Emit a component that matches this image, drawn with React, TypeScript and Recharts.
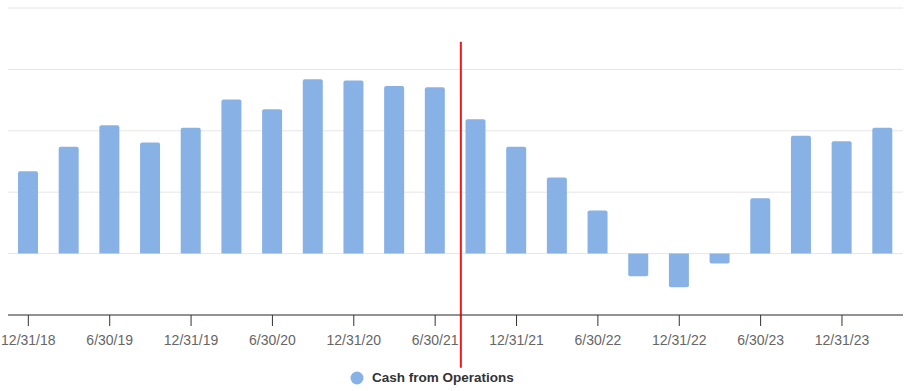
import React from 'react'
import { BarChart, Bar, XAxis, YAxis, CartesianGrid, Legend, ReferenceLine } from 'recharts'

if (typeof document !== 'undefined') document.body.style.margin = '0'

const periods = [
  '12/31/18', '3/31/19', '6/30/19', '9/30/19', '12/31/19', '3/31/20', '6/30/20', '9/30/20',
  '12/31/20', '3/31/21', '6/30/21', '9/30/21', '12/31/21', '3/31/22', '6/30/22', '9/30/22',
  '12/31/22', '3/31/23', '6/30/23', '9/30/23', '12/31/23', '3/31/24'
]

const cashFromOps = [
  134, 174, 209, 181, 205, 251, 235, 284, 282, 273, 271, 219,
  174, 124, 70, -37, -55, -16, 90, 192, 183, 205
]

const yTicks = [-100, 0, 100, 200, 300, 400]

const data = periods.map((period, i) => ({ period, cash: cashFromOps[i] }))

const BLUE = '#88b2e6'

// red divider sits a bit left of the 9/30/21 band centre
const RedDivider = (props: any) => {
  const x = props.x1 - 15
  return <line x1={x} x2={x} y1={props.y1} y2={props.y2} stroke="#f01818" strokeWidth={2} />
}

const LegendContent = () => (
  <div style={{ display: 'flex', alignItems: 'center', paddingLeft: 350, fontFamily: 'Liberation Sans, Arial, sans-serif' }}>
    <svg width={14} height={14} style={{ marginRight: 8 }}>
      <circle cx={7} cy={7} r={6.5} fill={BLUE} />
    </svg>
    <span style={{ fontSize: 13.5, fontWeight: 700, color: '#333' }}>Cash from Operations</span>
  </div>
)

export default function App() {
  return (
    <div style={{ width: 919, height: 391, background: '#fff' }}>
      <BarChart width={919} height={391} data={data} margin={{ top: 8, right: 16, bottom: 0, left: 8 }}>
        <CartesianGrid vertical={false} stroke="#e6e6e6" />
        <XAxis
          dataKey="period"
          interval={1}
          height={76}
          tickSize={11}
          tickMargin={9}
          stroke="#333"
          tick={{ fill: '#666', fontSize: 14, fontFamily: 'Liberation Sans, Arial, sans-serif' }}
        />
        <YAxis hide domain={[-100, 400]} ticks={yTicks} />
        <Bar dataKey="cash" fill={BLUE} barSize={20} radius={[2, 2, 0, 0]} isAnimationActive={false} />
        <ReferenceLine
          segment={[{ x: '9/30/21', y: 345 }, { x: '9/30/21', y: -186 }]}
          ifOverflow="visible"
          shape={RedDivider}
        />
        <Legend verticalAlign="middle" content={LegendContent} wrapperStyle={{ top: 370, left: 0, width: 919 }} />
      </BarChart>
    </div>
  )
}
